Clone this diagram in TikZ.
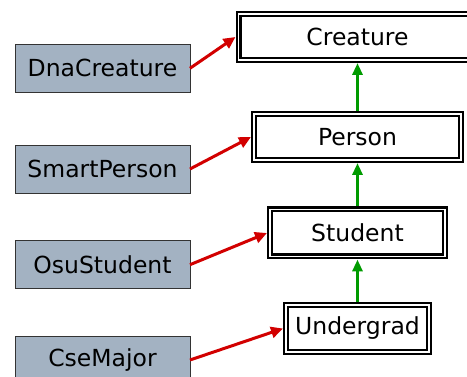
\documentclass[tikz,border=0pt]{standalone}
\usepackage{fontspec}
\setmainfont{DejaVu Sans}
\usetikzlibrary{arrows.meta}
\definecolor{boxgray}{RGB}{163,178,194}
\definecolor{inhred}{RGB}{210,0,0}
\definecolor{inhgreen}{RGB}{0,155,0}
\begin{document}
\begin{tikzpicture}[x=1pt,y=-1pt,
  classbox/.style={draw=black, line width=2.2pt, double=white, double distance=1.6pt,
     fill=white, minimum width=#1, minimum height=46pt, inner sep=0pt, outer sep=3pt,
     font=\fontsize{23.5}{28}\selectfont},
  ext/.style={draw=black!80, line width=0.8pt, fill=boxgray, minimum width=175pt,
     minimum height=48pt, inner sep=0pt, outer sep=0pt, font=\fontsize{23.5}{28}\selectfont},
  redarr/.style={draw=inhred, line width=3pt, -{Triangle[length=12pt,width=11pt]}},
  greenarr/.style={draw=inhgreen, line width=3pt, -{Triangle[length=12pt,width=10pt]}}]
\useasboundingbox (0,0) rectangle (467,377);
\clip (0,0) rectangle (467,377);
\node[classbox=238pt] (creature) at (357.5,37) {Creature};
\node[classbox=207pt] (person) at (357.5,137) {Person};
\node[classbox=175pt, minimum height=47pt] (student) at (357.5,233) {Student};
\node[classbox=143pt, minimum height=47pt] (undergrad) at (357.5,328.5) {Undergrad};
\node[ext] (dna) at (102.5,68.3) {DnaCreature};
\node[ext] (smart) at (102.5,169) {SmartPerson};
\node[ext] (osu) at (102.5,264.7) {OsuStudent};
\node[ext] (cse) at (102.5,360) {CseMajor};
\draw[greenarr] (person.north) -- (creature.south);
\draw[greenarr] (student.north) -- (person.south);
\draw[greenarr] (undergrad.north) -- (student.south);
\draw[redarr] (dna.east) -- (creature.west);
\draw[redarr] (smart.east) -- (person.west);
\draw[redarr] (osu.east) -- (student.west);
\draw[redarr] (cse.east) -- (undergrad.west);
\end{tikzpicture}
\end{document}
